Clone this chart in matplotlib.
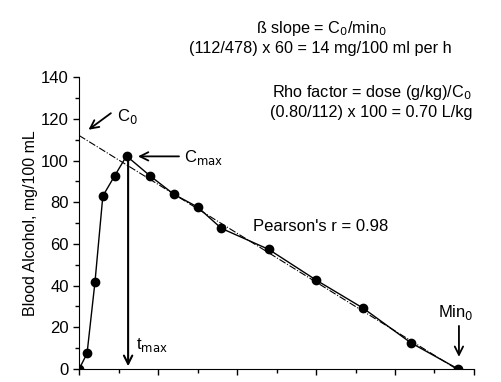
import matplotlib
matplotlib.use("Agg")
import matplotlib.pyplot as plt
from matplotlib.ticker import MultipleLocator

plt.rcParams['font.family'] = ['Liberation Sans', 'DejaVu Sans']

time_min = [0, 10, 20, 30, 45, 60, 90, 120, 150, 180, 240, 300, 360, 420, 480]
bac = [0, 7.5, 41.6, 83, 92.7, 102.2, 92.6, 83.8, 77.7, 67.5, 57.4, 42.7, 29.1, 12.6, 0]
fit_x = [0, 478]
fit_y = [112, 0]

fig = plt.figure(figsize=(5.01, 3.82), dpi=100)
ax = fig.add_axes([0.158, 0.034, 0.788, 0.764])

ax.plot(fit_x, fit_y, color='black', lw=0.8, ls='-.')
ax.plot(time_min, bac, color='black', lw=1.0, marker='o', ms=6)

ax.set_xlim(0, 500)
ax.set_ylim(0, 140)
ax.xaxis.set_major_locator(MultipleLocator(100))
ax.xaxis.set_minor_locator(MultipleLocator(50))
ax.yaxis.set_major_locator(MultipleLocator(20))
ax.yaxis.set_minor_locator(MultipleLocator(10))
for s in ['top', 'right']:
    ax.spines[s].set_visible(False)
ax.tick_params(which='major', direction='out', length=4.5, width=1, labelsize=12, pad=3)
ax.tick_params(which='minor', direction='out', length=3, width=1)
ax.tick_params(axis='x', which='major', pad=6.5)
ax.set_ylabel('Blood Alcohol, mg/100 mL', fontsize=11.5, labelpad=2)

ap = dict(arrowstyle='->', color='black', lw=1.3, mutation_scale=15)
ax.annotate('', xy=(9, 114), xytext=(43, 123.5), arrowprops=ap)
ax.text(48, 121, r'C$_0$', fontsize=12, va='center', ha='left')
ax.annotate('', xy=(71, 102), xytext=(130, 102), arrowprops=ap)
ax.text(133, 101.5, r'C$_{\rm max}$', fontsize=12, va='center', ha='left')
ax.annotate('', xy=(62, 0), xytext=(62, 102), arrowprops=dict(arrowstyle='->', color='black', lw=1.5, mutation_scale=15))
ax.text(72, 11.5, r't$_{\rm max}$', fontsize=12, va='center', ha='left')
ax.annotate('', xy=(481, 4.5), xytext=(481, 22), arrowprops=ap)
ax.text(477, 27, r'Min$_0$', fontsize=12, va='center', ha='center')
ax.text(220, 68.6, "Pearson's r = 0.98", fontsize=12, va='center', ha='left')

fs_top = 11.7
fig.text(0.641, 1 - 29/382, r'ß slope = C$_0$/min$_0$', fontsize=fs_top, ha='center', va='center')
fig.text(0.639, 1 - 48/382, '(112/478) x 60 = 14 mg/100 ml per h', fontsize=fs_top, ha='center', va='center')
fig.text(0.742, 1 - 93/382, r'Rho factor = dose (g/kg)/C$_0$', fontsize=fs_top, ha='center', va='center')
fig.text(0.742, 1 - 113/382, '(0.80/112) x 100 = 0.70 L/kg', fontsize=fs_top, ha='center', va='center')

fig.savefig('out.png', dpi=100)
